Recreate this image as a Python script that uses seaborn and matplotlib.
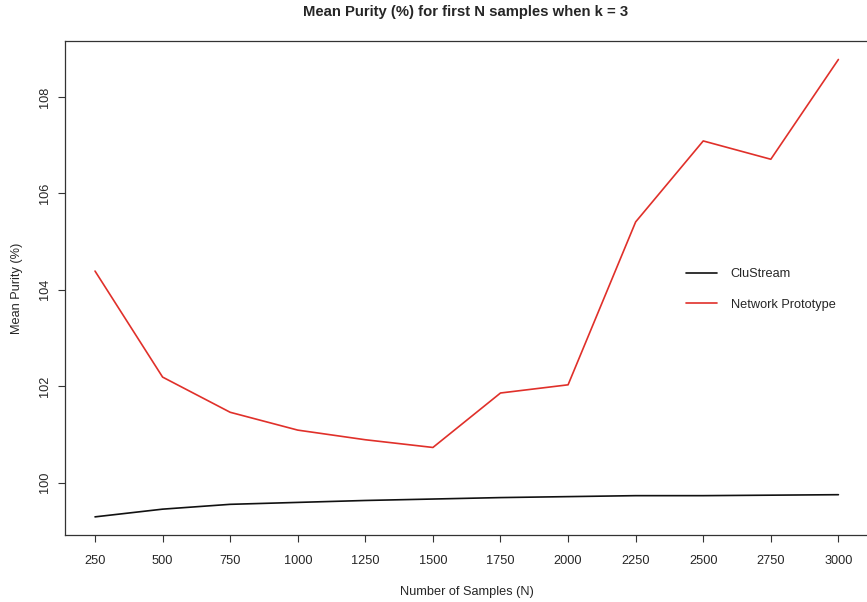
import matplotlib
matplotlib.use("Agg")
import matplotlib.pyplot as plt
import seaborn as sns
import pandas as pd

samples = [250, 500, 750, 1000, 1250, 1500, 1750, 2000, 2250, 2500, 2750, 3000]
clustream = [99.29, 99.45, 99.55, 99.59, 99.63, 99.66, 99.69, 99.71, 99.73, 99.73, 99.74, 99.75]
network_proto = [104.39, 102.19, 101.46, 101.09, 100.89, 100.73, 101.86, 102.03, 105.41, 107.09, 106.71, 108.78]
series_names = ["CluStream", "Network Prototype"]
x_ticks = [250, 500, 750, 1000, 1250, 1500, 1750, 2000, 2250, 2500, 2750, 3000]
y_ticks = [100, 102, 104, 106, 108]

df = pd.concat([
    pd.DataFrame({"N": samples, "Purity": clustream, "Method": series_names[0]}),
    pd.DataFrame({"N": samples, "Purity": network_proto, "Method": series_names[1]}),
])

sns.set_style("ticks")
plt.rcParams["font.family"] = ["Liberation Sans", "DejaVu Sans"]

fig = plt.figure(figsize=(8.67, 6.02), dpi=100)
ax = fig.add_axes([0.0753, 0.111, 0.926, 0.8206])

sns.lineplot(data=df, x="N", y="Purity", hue="Method",
             palette={"CluStream": "#111111", "Network Prototype": "#E0302A"},
             linewidth=1.2, ax=ax, legend=True)

fs = 9.2
ax.set_xlim(140, 3110)
ax.set_ylim(98.91, 109.16)
ax.set_xticks(x_ticks)
ax.set_xticklabels([str(v) for v in x_ticks], fontsize=fs)
ax.set_yticks(y_ticks)
ax.set_yticklabels([str(v) for v in y_ticks], fontsize=fs, rotation=90, va="center")
ax.tick_params(axis="both", length=5, width=0.8, color="#333333")
ax.tick_params(axis="x", pad=9)
ax.tick_params(axis="y", pad=5)
for s in ax.spines.values():
    s.set_color("#333333")
    s.set_linewidth(0.9)

ax.set_xlabel("Number of Samples (N)", fontsize=fs, labelpad=14)
ax.set_ylabel("Mean Purity (%)", fontsize=fs, labelpad=12)
fig.text(466 / 867, 1 - 5 / 602, "Mean Purity (%) for first N samples when k = 3",
         ha="center", va="top", fontsize=10.7, fontweight="bold")

handles, labels = ax.get_legend_handles_labels()
ax.legend(handles, labels, frameon=False, loc="upper left",
          bbox_to_anchor=(686 / 867, 1 - 268 / 602), bbox_transform=fig.transFigure,
          fontsize=fs, handlelength=2.4, handletextpad=1.1, labelspacing=1.45,
          borderpad=0, borderaxespad=0)

fig.savefig("out.png", dpi=100)
